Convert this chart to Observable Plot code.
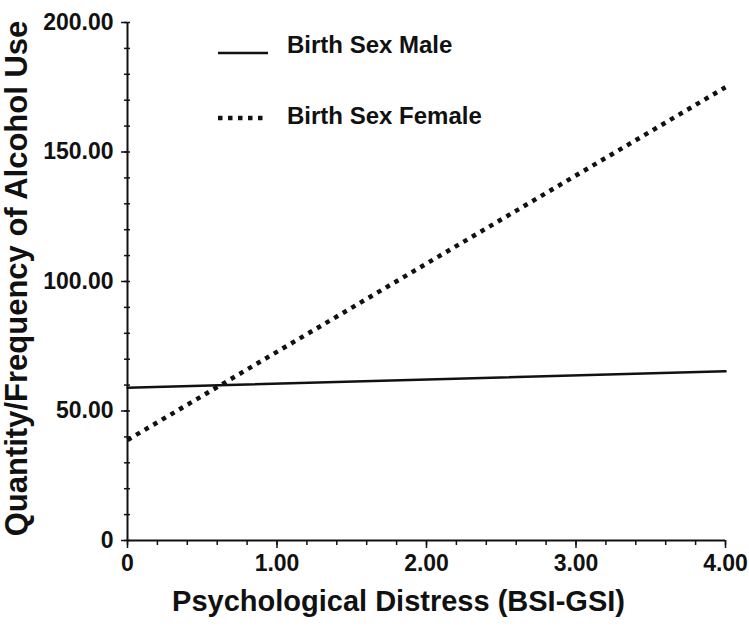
<!DOCTYPE html>
<html><head><meta charset="utf-8">
<script src="https://cdn.jsdelivr.net/npm/d3@7"></script>
<script src="https://cdn.jsdelivr.net/npm/@observablehq/plot@0.6"></script>
<style>body{margin:0;background:#fff}</style>
</head><body><div id="chart"></div>
<script>
// Data
const xValues = [0, 4];
const maleValues = [59.0, 65.3];
const femaleValues = [38.8, 175.0];
const seriesNames = ["Birth Sex Male", "Birth Sex Female"];
const xMajorTicks = [0, 1, 2, 3, 4];
const yMajorTicks = [0, 50, 100, 150, 200];
const xMinorTicks = d3.range(0, 4.0001, 0.2);
const yMinorTicks = d3.range(0, 200.001, 10);
const xTitle = "Psychological Distress (BSI-GSI)";
const yTitle = "Quantity/Frequency of Alcohol Use";

const male = xValues.map((x, i) => ({x, y: maleValues[i]}));
const female = xValues.map((x, i) => ({x, y: femaleValues[i]}));
const fmt = d => d === 0 ? "0" : d3.format(".2f")(d);
const FONT = "Liberation Sans, Arial, Helvetica, sans-serif";

function legend(index, scales, values, dims) {
  const g = d3.create("svg:g").attr("font-family", FONT).attr("font-weight", "bold")
    .attr("font-size", 24).attr("fill", "#111").attr("text-anchor", "start");
  const x0 = dims.marginLeft + 91, x1 = x0 + 50, tx = x0 + 160;
  const rows = [
    {name: seriesNames[0], y: dims.marginTop + 31, dy: -8, dash: null, w: 2.5},
    {name: seriesNames[1], y: dims.marginTop + 96, dy: -2, dash: "4.5,5.5", w: 4.5}
  ];
  for (const r of rows) {
    g.append("line").attr("x1", x0).attr("x2", x1).attr("y1", r.y).attr("y2", r.y)
      .attr("stroke", "#111").attr("stroke-width", r.w).attr("stroke-dasharray", r.dash);
    g.append("text").attr("x", x0 + 69).attr("y", r.y + r.dy).attr("dy", "0.35em").text(r.name);
  }
  return g.node();
}

const chart = Plot.plot({
  width: 749, height: 629,
  marginLeft: 127, marginRight: 24, marginTop: 22, marginBottom: 89,
  style: {fontFamily: FONT, background: "#fff", color: "#111", overflow: "visible"},
  x: {domain: [0, 4], axis: null},
  y: {domain: [0, 200], axis: null},
  marks: [
    Plot.axisX(xMinorTicks, {tickSize: 5, text: null, label: null, stroke: "#111", strokeWidth: 1.5}),
    Plot.axisX(xMajorTicks, {tickSize: 8, tickPadding: 6, tickFormat: fmt, fontSize: 23, fontWeight: "bold", label: null, stroke: "#111", strokeWidth: 1.5}),
    Plot.axisY(yMinorTicks, {tickSize: 6, dx: 3, text: null, label: null, stroke: "#111", strokeWidth: 1.5}),
    Plot.axisY(yMajorTicks, {tickSize: 6, tickPadding: 8, tickFormat: fmt, fontSize: 23, fontWeight: "bold", label: null, stroke: "#111", strokeWidth: 1.5}),
    Plot.ruleX([0], {stroke: "#111", strokeWidth: 2}),
    Plot.ruleY([0], {stroke: "#111", strokeWidth: 2}),
    Plot.line(male, {x: "x", y: "y", stroke: "#111", strokeWidth: 2.5}),
    Plot.line(female, {x: "x", y: "y", stroke: "#111", strokeWidth: 4.5, strokeDasharray: "4.5,5.5", strokeLinecap: "butt"}),
    Plot.text([xTitle], {frameAnchor: "bottom", textAnchor: "middle", dx: -28, dy: 70, fontSize: 29, fontWeight: "bold", fill: "#111"}),
    Plot.text([yTitle], {frameAnchor: "left", textAnchor: "middle", rotate: -90, dx: -110, dy: -3, fontSize: 31, fontWeight: "bold", fill: "#111"}),
    legend
  ]
});
document.getElementById("chart").append(chart);
</script>
</body></html>
